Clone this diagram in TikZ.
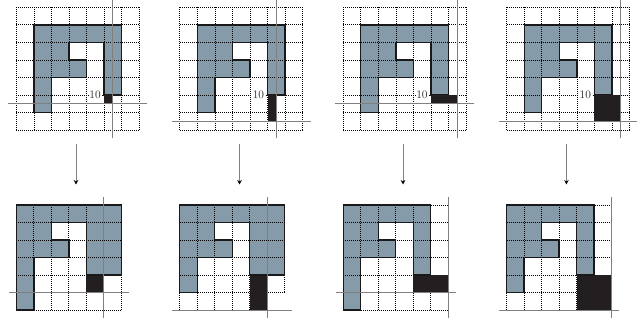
\documentclass[tikz,border=0pt]{standalone}
\usetikzlibrary{arrows.meta}
\definecolor{pixblue}{HTML}{869BAA}
\definecolor{pixblack}{HTML}{231F20}
\definecolor{axisgray}{HTML}{808080}
\tikzset{
  gridline/.style={line width=0.7pt, dash pattern=on 1.1pt off 0.9pt, black},
  shapeoutline/.style={draw=black!90, line width=1.4pt, line join=miter},
  blackpix/.style={fill=pixblack},
  axisline/.style={draw=axisgray, line width=0.9pt},
  lbl/.style={anchor=east, fill=white, inner xsep=0.6pt, inner ysep=0.5pt, xshift=-2.6pt, font=\fontsize{11.5}{12}\selectfont, text=black!85},
  downarrow/.style={draw=axisgray, line width=1pt, -{Stealth[length=4.5pt,width=4.5pt,color=black]}}
}
\newcommand\toppanel[4]{%
\begin{scope}[shift={(#1pt,-7.3pt)}, x=17.55pt, y=-17.55pt]
  \fill[pixblue] (1,1) -- (6,1) -- (6,5) -- (5,5) -- (5,2) -- (3,2) -- (3,3) -- (4,3) -- (4,4) -- (2,4) -- (2,6) -- (1,6) -- cycle;
  \foreach \i in {0,...,7} {\draw[gridline] (\i,0) -- (\i,7); \draw[gridline] (0,\i) -- (7,\i);}
  \draw[shapeoutline] (1,1) -- (6,1) -- (6,5) -- (5,5) -- (5,2) -- (3,2) -- (3,3) -- (4,3) -- (4,4) -- (2,4) -- (2,6) -- (1,6) -- cycle;
  \fill[blackpix] (5,5) rectangle (5+#2,5+#3);
  \draw[axisline] (-0.45,5+#3) -- (7.45,5+#3);
  \draw[axisline] (5+#2,-0.42) -- (5+#2,7.42);
  \node[lbl] (#4) at (5,5) {10};
\end{scope}}
\begin{document}
\begin{tikzpicture}[x=1pt,y=-1pt]
\useasboundingbox (0,0) rectangle (639,321);

% top row
\toppanel{16.3}{0.5}{0.5}{lblA}
\toppanel{179.75}{0.5}{1.5}{lblB}
\toppanel{343.2}{1.5}{0.5}{lblC}
\toppanel{506.65}{1.5}{1.5}{lblD}

% arrows
\foreach \k/\xx in {A/76, B/239.5, C/403, D/566.4} {
  \coordinate (s\k) at (\xx,144);
  \coordinate (e\k) at (\xx,184.5);
  \draw[downarrow] (s\k) -- (e\k);
}

% bottom 1
\begin{scope}[shift={(16.3pt,-205pt)}, x=17.5pt, y=-17.5pt]
  \fill[pixblue] (0,0) -- (6,0) -- (6,4) -- (4,4) -- (4,1) -- (2,1) -- (2,2) -- (3,2) -- (3,3) -- (1,3) -- (1,6) -- (0,6) -- cycle;
  \foreach \i in {0,...,6} {\draw[gridline] (\i,0) -- (\i,6); \draw[gridline] (0,\i) -- (6,\i);}
  \fill[blackpix] (4,4) rectangle (5,5);
  \draw[shapeoutline] (0,0) -- (6,0) -- (6,4) -- (4,4) -- (4,1) -- (2,1) -- (2,2) -- (3,2) -- (3,3) -- (1,3) -- (1,6) -- (0,6) -- cycle;
  \draw[axisline] (-0.43,5) -- (6.43,5);
  \draw[axisline] (5,-0.43) -- (5,6.43);
\end{scope}

% bottom 2
\begin{scope}[shift={(179.75pt,-205pt)}, x=17.5pt, y=-17.5pt]
  \fill[pixblue] (0,0) -- (6,0) -- (6,4) -- (4,4) -- (4,1) -- (2,1) -- (2,2) -- (3,2) -- (3,3) -- (1,3) -- (1,5) -- (0,5) -- cycle;
  \foreach \i in {0,...,5} {\draw[gridline] (\i,0) -- (\i,6);}
  \draw[gridline] (6,0) -- (6,5);
  \foreach \i in {0,...,5} {\draw[gridline] (0,\i) -- (6,\i);}
  \fill[blackpix] (4,4) rectangle (5,6);
  \draw[shapeoutline] (0,0) -- (6,0) -- (6,4) -- (4,4) -- (4,1) -- (2,1) -- (2,2) -- (3,2) -- (3,3) -- (1,3) -- (1,5) -- (0,5) -- cycle;
  \draw[axisline] (-0.43,6) -- (6.43,6);
  \draw[axisline] (5,-0.43) -- (5,6.43);
\end{scope}

% bottom 3
\begin{scope}[shift={(343.2pt,-205pt)}, x=17.5pt, y=-17.5pt]
  \fill[pixblue] (0,0) -- (5,0) -- (5,4) -- (4,4) -- (4,1) -- (2,1) -- (2,2) -- (3,2) -- (3,3) -- (1,3) -- (1,6) -- (0,6) -- cycle;
  \foreach \i in {0,...,5} {\draw[gridline] (\i,0) -- (\i,6);}
  \foreach \i in {0,...,6} {\draw[gridline] (0,\i) -- (6,\i);}
  \fill[blackpix] (4,4) rectangle (6,5);
  \draw[shapeoutline] (0,0) -- (5,0) -- (5,4) -- (4,4) -- (4,1) -- (2,1) -- (2,2) -- (3,2) -- (3,3) -- (1,3) -- (1,6) -- (0,6) -- cycle;
  \draw[axisline] (-0.43,5) -- (6.43,5);
  \draw[axisline] (6,-0.43) -- (6,6.43);
\end{scope}

% bottom 4
\begin{scope}[shift={(506.65pt,-205pt)}, x=17.5pt, y=-17.5pt]
  \fill[pixblue] (0,0) -- (5,0) -- (5,4) -- (4,4) -- (4,1) -- (2,1) -- (2,2) -- (3,2) -- (3,3) -- (1,3) -- (1,5) -- (0,5) -- cycle;
  \foreach \i in {0,...,5} {\draw[gridline] (\i,0) -- (\i,6);}
  \foreach \i in {0,...,5} {\draw[gridline] (0,\i) -- (6,\i);}
  \fill[blackpix] (4,4) rectangle (6,6);
  \draw[shapeoutline] (0,0) -- (5,0) -- (5,4) -- (4,4) -- (4,1) -- (2,1) -- (2,2) -- (3,2) -- (3,3) -- (1,3) -- (1,5) -- (0,5) -- cycle;
  \draw[axisline] (-0.43,6) -- (6.43,6);
  \draw[axisline] (6,-0.43) -- (6,6.43);
\end{scope}
\end{tikzpicture}
\end{document}
